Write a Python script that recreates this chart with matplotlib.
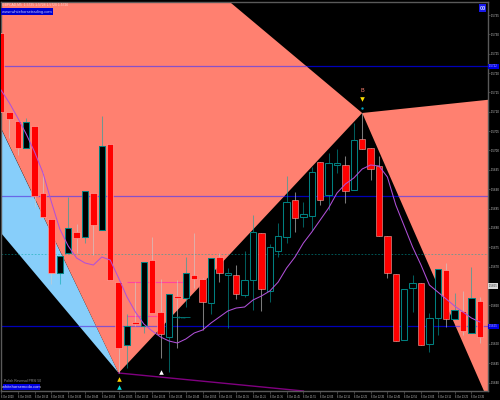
import matplotlib
matplotlib.use("Agg")
import matplotlib.pyplot as plt
from matplotlib.patches import Polygon, Rectangle

# Candle values, in price-scale rows (top of the scale = small numbers)
opens  = [33,112,121,148,126,193,219,273,253,232,237,193,230,144,282,345,322,326,260,312,337,296,298,275,279,303,257,275,275,295,
          280,233,291,251,237,200,217,216,162,195,165,165,190,139,148,166,236,274,340,288,283,344,318,270,319,311,333,301]
closes = [112,119,148,122,196,217,273,256,228,238,191,225,146,280,348,326,324,262,313,334,294,298,273,279,302,258,273,273,294,280,
          232,289,247,236,202,218,214,172,200,163,163,191,140,149,169,236,273,341,289,283,345,318,269,319,310,331,298,337]
highs  = [33,112,121,118,126,172,219,256,197,224,191,193,116,144,282,314,282,262,237,279,294,280,257,233,278,258,253,268,265,251,
          215,233,244,223,176,192,202,167,162,153,149,156,123,113,148,156,236,274,289,275,283,313,269,263,293,291,267,297]
lows   = [112,138,155,148,207,217,284,284,253,253,243,255,230,280,373,368,326,333,313,358,372,348,307,288,330,314,282,328,299,297,
          310,311,302,257,243,232,227,230,205,210,173,203,190,149,180,236,278,341,340,312,345,352,335,327,319,335,333,343]
ma     = [90,103,118,134,152,173,202,229,246,258,263,265,257,260,278,297,312,324,331,337,341,343,339,333,330,323,317,311,308,307,
          300,296,291,282,268,257,243,232,220,208,193,184,178,169,165,166,177,205,226,247,265,285,292,299,306,312,318,322]

# Zigzag triangles (bar index, row)
salmon_main_x = [-30.4, 43, 14]
salmon_main_y = [-404, 113, 373]
salmon_right_x = [43, 60, 60]
salmon_right_y = [113, 98, 439]
blue_tri_x = [14, -2.5, -2.5]
blue_tri_y = [373, 85, 208]
trend_x = [14, 36]
trend_y = [373, 391]

h_levels = [66, 196, 326]
dotted_level = 254
pink_levels = [(282, 15, 22), (316, 15, 19)]

tick_rows = [15 + 19.35 * k for k in range(20)]
tick_labels = ["1.5735", "1.5730", "1.5725", "1.5720", "1.5715", "1.5710", "1.5705", "1.5700", "1.5695", "1.5690",
               "1.5685", "1.5680", "1.5675", "1.5670", "", "1.5660", "", "1.5650", "1.5645", "1.5640"]
box_top = "1.5722"
box_low = "1.5655"
box_now = "1.5665"
time_labels = ["6 Oct 2020", "6 Oct 09:05", "6 Oct 09:15", "6 Oct 09:25", "6 Oct 09:35", "6 Oct 09:45", "6 Oct 09:55",
               "6 Oct 10:05", "6 Oct 10:15", "6 Oct 10:25", "6 Oct 10:35", "6 Oct 10:45", "6 Oct 10:55", "6 Oct 11:05",
               "6 Oct 11:15", "6 Oct 11:25", "6 Oct 11:35", "6 Oct 11:45", "6 Oct 11:55", "6 Oct 12:05", "6 Oct 12:15",
               "6 Oct 12:25", "6 Oct 12:35", "6 Oct 12:45", "6 Oct 12:55", "6 Oct 13:05", "6 Oct 13:15", "6 Oct 13:25", "6 Oct 13:35"]

SALMON = "#FF8070"
SKY = "#87CEFA"
GREY = "#5a5a5a"
TXT = "#c8c8c8"
FS_X = 1.8
FS_Y = 2.1

plt.rcParams["font.family"] = ["Liberation Sans", "DejaVu Sans"]

fig = plt.figure(figsize=(5, 4), dpi=100, facecolor="black")
ax = fig.add_axes([1 / 500, 9 / 400, 487 / 500, 389 / 400], facecolor="black")
ax.set_xlim(0, 487 / 8.4)
ax.set_ylim(391, 2)

sky = ax.add_patch(Polygon(list(zip(blue_tri_x, blue_tri_y)), closed=True, fc=SKY, ec="none", zorder=1))
main = ax.add_patch(Polygon(list(zip(salmon_main_x, salmon_main_y)), closed=True, fc=SALMON, ec="none", zorder=1))
right = ax.add_patch(Polygon(list(zip(salmon_right_x, salmon_right_y)), closed=True, fc=SALMON, ec="none", zorder=1))

for lvl in h_levels:
    ax.axhline(lvl, color="#0000B8", lw=0.9, zorder=0.5)
    for shape in (main, right):
        ln = ax.axhline(lvl, color="#8850C8", lw=0.9, zorder=2)
        ln.set_clip_path(shape)
    ln = ax.axhline(lvl, color="#6868E8", lw=0.9, zorder=2)
    ln.set_clip_path(sky)
ax.axhline(dotted_level, color="#00A8A8", alpha=0.6, lw=0.6, ls=(0, (2, 2)), zorder=2)
for row, x0, x1 in pink_levels:
    ax.hlines(row, x0, x1, color="#FF30B0", alpha=0.75, lw=0.8, zorder=2)
ax.plot(trend_x, trend_y, color="#800080", lw=1.0, zorder=2)

# Candles
for i, (o, c, h, l) in enumerate(zip(opens, closes, highs, lows)):
    up = c < o
    wick = (0, 0.66, 0.66, 0.55) if up else (0.8, 0.8, 0.8, 0.6)
    ax.vlines(i, h, l, color=wick, lw=0.75, zorder=3)
    top, bottom = min(o, c), max(o, c)
    if up:
        ax.bar(i, bottom - top, bottom=top, width=0.74, color="black", edgecolor="#008080", linewidth=0.75, zorder=4)
    else:
        ax.bar(i, bottom - top, bottom=top, width=0.74, color="#FF0000", edgecolor=(1, 0.75, 0.72, 0.6), linewidth=0.6, zorder=4)

ax.plot(range(len(ma)), ma, color="#B050D8", lw=0.75, zorder=5)

# Arrows and marks
ax.scatter([14], [379], marker="^", s=11, color="#FFD000", linewidths=0, zorder=6)
ax.scatter([14], [387], marker="^", s=11, color="#00E0E0", linewidths=0, zorder=6)
ax.scatter([19], [372], marker="^", s=11, color="white", linewidths=0, zorder=6)
ax.scatter([43], [99], marker="v", s=11, color="#FFE000", linewidths=0, zorder=6)
ax.scatter([43], [108], marker="o", s=3, color="#00A0C0", linewidths=0, zorder=6)
ax.text(43, 90, "B", color="#FF8070", fontsize=4, ha="center", va="center", zorder=6)
ax.hlines(317, 20.4, 22.5, color="#008080", lw=0.6, zorder=3)
ax.text(20.9, 318, "19 sec", color="#008080", fontsize=FS_Y, va="center", zorder=6)

# Axes
for name, sp in ax.spines.items():
    sp.set_color(GREY)
    sp.set_linewidth(1.0)
ax.yaxis.tick_right()
ax.set_yticks(tick_rows)
ax.set_yticklabels(tick_labels)
ax.set_xticks(list(range(0, 58, 2)))
ax.set_xticklabels(time_labels, ha="left")
ax.tick_params(axis="y", colors=TXT, labelsize=FS_Y, length=1.5, width=0.5, pad=0.5, color=GREY)
ax.tick_params(axis="x", colors=TXT, labelsize=FS_X, length=2, width=0.5, pad=0.8, color=GREY)

# Overlays placed in figure pixels
ov = fig.add_axes([0, 0, 1, 1], facecolor="none")
ov.set_xlim(0, 500)
ov.set_ylim(400, 0)
ov.axis("off")

ov.text(2, 4.5, "GBPCAD,M5  1.5725 1.5728 1.5720 1.5726", color="#FFD8D0", fontsize=2.4, va="center")
ov.add_patch(Rectangle((1, 8), 52, 7, fc="#0000D0", ec="none"))
ov.text(2.5, 11.5, "www.whitehorsetrading.com", color="#C8C8F8", fontsize=2.9, va="center")
ov.text(4, 381, "Polish Reversal PRSI 50", color="#909090", fontsize=2.4, va="center")
ov.add_patch(Rectangle((3, 384), 37, 6, fc="#0000E0", ec="none"))
ov.text(21, 387, "whitehorsemodo.com", color="#E0E0FF", fontsize=3.0, ha="center", va="center")
ov.add_patch(Rectangle((479, 4), 7, 8, fc="#1818E8", ec="none"))
ov.text(482.5, 8, "00", color="#C8D8FF", fontsize=4, ha="center", va="center", fontweight="bold")

for row, lab in ((h_levels[0], box_top), (h_levels[2], box_low)):
    ov.add_patch(Rectangle((488, row - 2.5), 11, 5, fc="#0000E0", ec="none"))
    ov.text(493.5, row, lab, color="#C0C0FF", fontsize=FS_Y, ha="center", va="center")
ov.add_patch(Rectangle((488, 283), 10, 6, fc="#D8D8D8", ec="none"))
ov.text(493, 286, box_now, color="#303030", fontsize=FS_Y, ha="center", va="center")

fig.savefig("out.png", dpi=100, facecolor="black")
